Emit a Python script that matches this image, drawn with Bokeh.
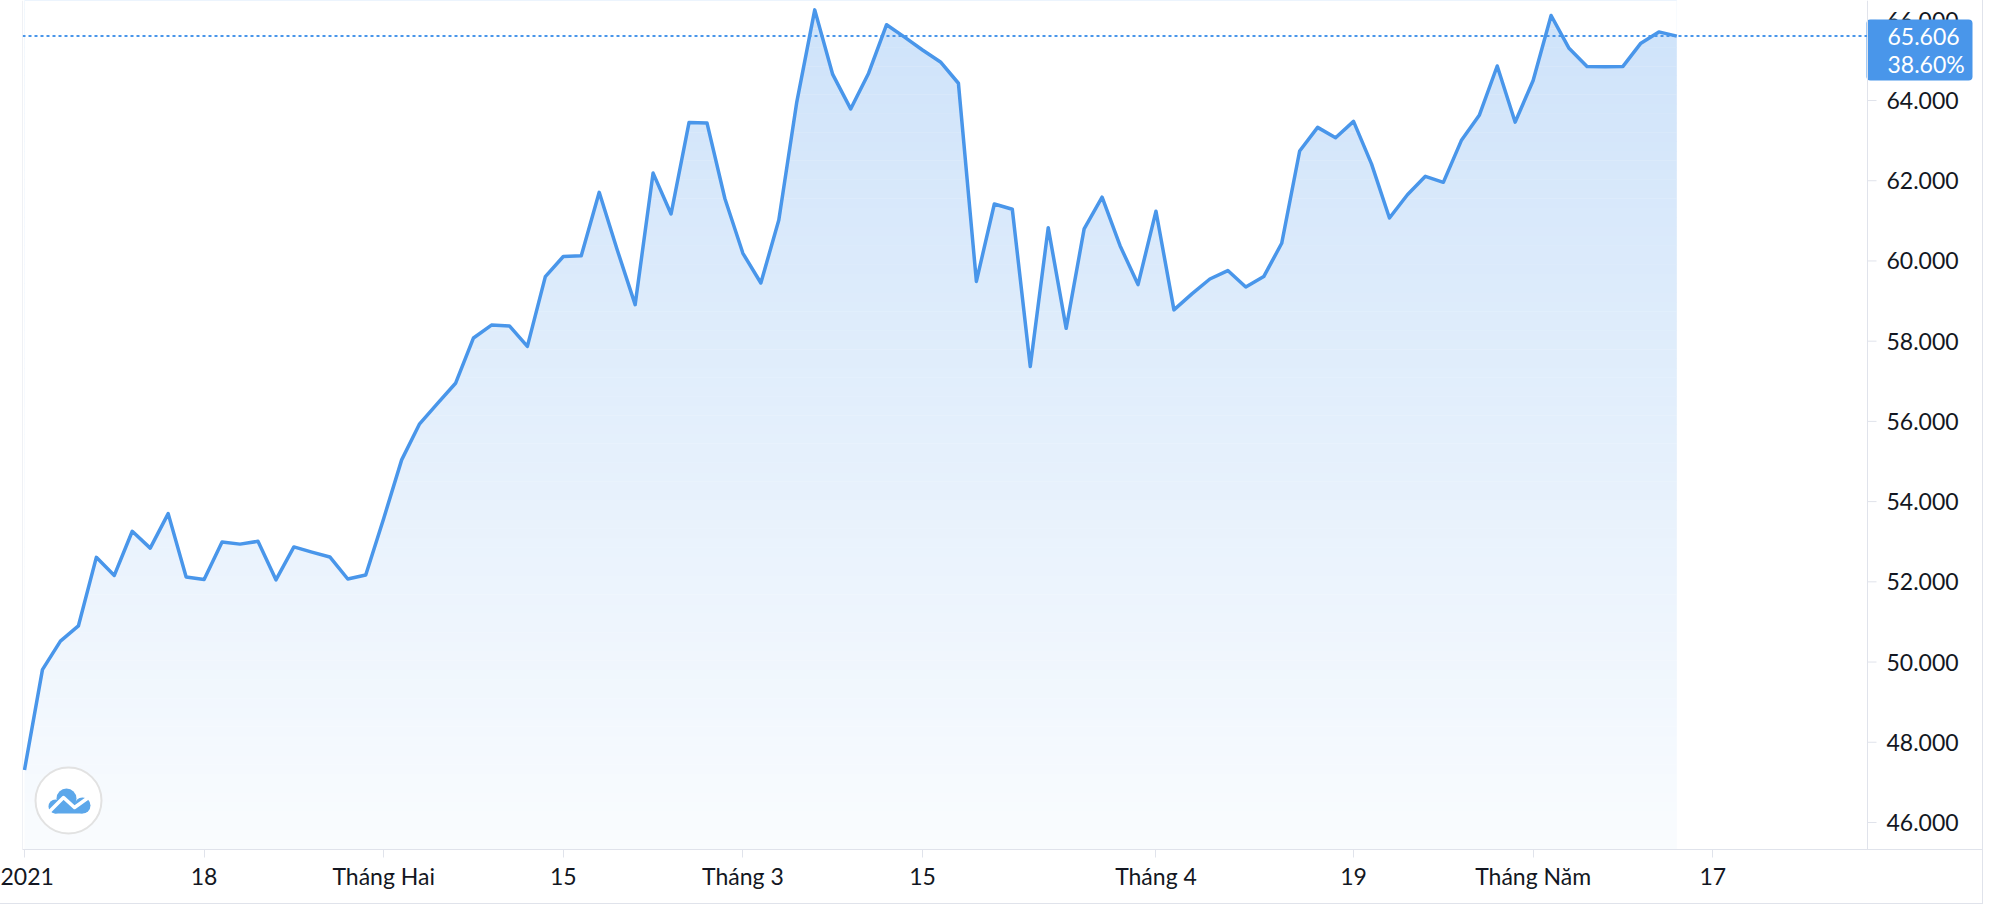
import numpy as np
from bokeh.plotting import figure
from bokeh.models import FixedTicker, Span, Range1d
from bokeh.core.properties import value
from bokeh.embed import file_html
from bokeh.resources import INLINE

# ---------------- data (trading-day index, closing values) ----------------
values = [47.31, 49.81, 50.52, 50.90, 52.61, 52.16, 53.26, 52.84, 53.70, 52.12,
          52.06, 52.99, 52.94, 53.01, 52.05, 52.87, 52.74, 52.62, 52.07, 52.17,
          53.58, 55.04, 55.94, 56.45, 56.95, 58.08, 58.40, 58.38, 57.87, 59.61,
          60.11, 60.13, 61.71, 60.28, 58.91, 62.19, 61.17, 63.45, 63.44, 61.55,
          60.19, 59.45, 61.02, 63.96, 66.26, 64.65, 63.79, 64.68, 65.89, 65.58,
          65.26, 64.96, 64.43, 59.49, 61.42, 61.29, 57.37, 60.83, 58.32, 60.80,
          61.59, 60.38, 59.41, 61.24, 58.78, 59.18, 59.55, 59.76, 59.35, 59.61,
          60.44, 62.74, 63.33, 63.07, 63.48, 62.42, 61.07, 61.65, 62.11, 61.96,
          63.00, 63.63, 64.86, 63.46, 64.50, 66.12, 65.30, 64.85, 64.84, 64.85,
          65.43, 65.71, 65.606]
last_value = 65.606
change_pct = 38.60
tick_index = [0, 10, 20, 30, 40, 50, 63, 74, 84, 94]
tick_labels = ["2021", "18", "Tháng Hai", "15", "Tháng 3", "15",
               "Tháng 4", "19", "Tháng Năm", "17"]
y_ticks = [46, 48, 50, 52, 54, 56, 58, 60, 62, 64, 66]

# ---------------- styling ----------------
BLUE = "#4996ea"
LOGO_BLUE = "#5ca7ea"
GRID = "#e0e3eb"
TEXT = "#131722"
FONT = "Lato"
FS = "23px"

idx = np.arange(len(values))
vals = np.array(values)

# layout (page pixels)
LEFT_PX = 22          # pane left edge
AXIS_PX = 1867        # price-scale separator
RIGHT_PX = 1983       # outer right edge
BOTTOM_PX = 849       # time-scale line
FIG_H = 904
BAR_PX = 17.96        # pixels per trading day
Y_PX = 40.11          # pixels per unit

x_start = -2 / BAR_PX
x_end = x_start + (RIGHT_PX - LEFT_PX) / BAR_PX
y_end = 64 + 100 / Y_PX
y_start = y_end - BOTTOM_PX / Y_PX


def px_x(px):
    return x_start + (px - LEFT_PX) / BAR_PX


def px_y(py):
    return y_end - py / Y_PX


ax_x = px_x(AXIS_PX)

p = figure(width=RIGHT_PX, height=FIG_H,
           x_range=Range1d(x_start, x_end), y_range=Range1d(y_start, y_end),
           y_axis_location=None, toolbar_location=None, output_backend="svg",
           min_border_left=LEFT_PX, min_border_right=0, min_border_top=0,
           min_border_bottom=FIG_H - BOTTOM_PX, background_fill_color="white",
           border_fill_color="white")
p.outline_line_color = None
p.xgrid.visible = False
p.ygrid.visible = False
p.styles = {"border-right": "1px solid " + GRID, "border-bottom": "1px solid " + GRID}

# ---------------- gradient area fill ----------------
n = 90
edges = np.linspace(y_start, y_end, n + 1)
centers = (edges[:-1] + edges[1:]) / 2
t = (y_end - centers) / (y_end - y_start)
alpha = 0.27 - 0.24 * t
base = np.array([72, 149, 234])
cols = []
for a in alpha:
    c = 255 - a * (255 - base)
    cols.append("#%02x%02x%02x" % tuple(int(round(v)) for v in c))
p.quad(left=idx[0], right=idx[-1], bottom=edges[:-1], top=edges[1:] + 0.01,
       fill_color=cols, line_color=None)
# white mask above the line
p.varea(x=idx, y1=vals, y2=y_end, fill_color="white")

# series line
p.line(idx, vals, line_color=BLUE, line_width=3.5, line_join="round")

# last-value dotted line
p.line([x_start, ax_x], [last_value, last_value], line_color=BLUE,
       line_width=2, line_dash="3 3")

# pane borders
p.add_layout(Span(location=x_start, dimension="height", line_color=GRID, line_width=1))
p.add_layout(Span(location=ax_x, dimension="height", line_color=GRID, line_width=1))

# ---------------- price scale (right) ----------------
tick_len = 9 / BAR_PX
p.segment(x0=[ax_x] * len(y_ticks), x1=[ax_x + tick_len] * len(y_ticks),
          y0=y_ticks, y1=y_ticks, line_color=GRID, line_width=1)
p.text(x=[px_x(1886)] * len(y_ticks), y=y_ticks,
       text=["%.3f" % v for v in y_ticks],
       text_font=value(FONT), text_font_size=FS, text_color=TEXT,
       text_baseline="middle", text_align="left")

# last price badge
box_top = last_value + 16.6 / Y_PX
box_bottom = box_top - 61 / Y_PX
p.quad(left=[px_x(1866)], right=[px_x(1972)], top=[box_top], bottom=[box_bottom],
       fill_color=BLUE, line_color=None, border_radius=4)
p.text(x=[px_x(1887)] * 2, y=[last_value, last_value - 28 / Y_PX],
       text=["%.3f" % last_value, "%.2f%%" % change_pct],
       text_font=value(FONT), text_font_size=FS, text_color="white",
       text_baseline="middle", text_align="left")

# ---------------- time scale (bottom) ----------------
xax = p.xaxis[0]
xax.axis_line_color = GRID
xax.major_tick_line_color = GRID
xax.minor_tick_line_color = None
xax.major_tick_in = 0
xax.major_tick_out = 8
xax.major_label_text_font = FONT
xax.major_label_text_font_size = FS
xax.major_label_text_color = TEXT
xax.major_label_standoff = 4
xax.ticker = FixedTicker(ticks=tick_index)
xax.major_label_overrides = {k: v for k, v in zip(tick_index, tick_labels)}

# ---------------- logo (decoration) ----------------
p.scatter([px_x(68)], [px_y(800)], size=66, marker="circle",
          fill_color="white", line_color="#e2e2e2", line_width=2)
p.scatter([px_x(66), px_x(55), px_x(82)], [px_y(798), px_y(806), px_y(805)],
          size=[20, 14, 16], marker="circle", fill_color=LOGO_BLUE, line_color=None)
p.rect(x=[px_x(68)], y=[px_y(807.5)], width=28, height=11,
       width_units="screen", height_units="screen",
       fill_color=LOGO_BLUE, line_color=None)
p.line([px_x(49), px_x(63), px_x(74), px_x(88)],
       [px_y(811), px_y(797), px_y(807), px_y(797)],
       line_color="white", line_width=3.5, line_join="round")

open("out.html", "w").write(file_html(p, INLINE))
